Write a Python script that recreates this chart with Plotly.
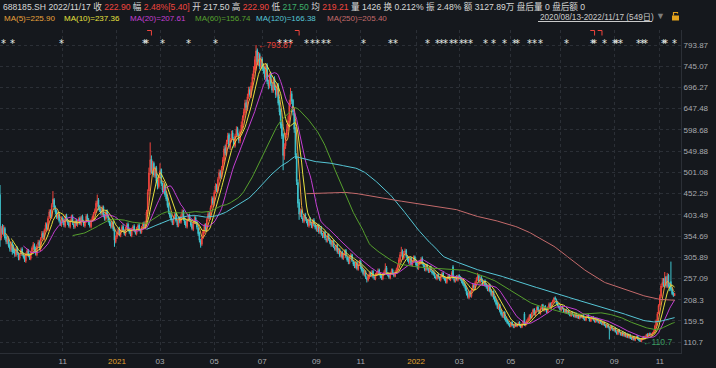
import plotly.graph_objects as go
import pandas as pd

# ---------------- data (daily OHLC, 2020/08/13 - 2022/11/17, 549 trading days) ----------------
close = [
    345,
    372, 362, 375, 350, 342, 348, 332, 325, 336, 318,
    320, 313, 325, 315, 305, 311, 323, 313, 307, 300, 313, 321, 310, 305, 317, 327, 335,
    322, 315, 332, 340, 328, 348, 360, 352, 368, 380, 372, 395, 410, 400, 425, 440,
    420, 410, 398, 405, 390, 382, 395, 388, 380, 400, 392, 385, 378, 390, 398, 384, 376, 388, 382,
    388, 394, 383, 398, 390, 380, 386, 400, 393, 384, 378, 390, 398, 406, 413,
    430, 435, 418,
    415, 407, 420, 403, 395, 410, 400, 390, 383, 377, 385, 370,
    345,
    350, 362, 370, 358, 366, 375, 368, 360, 372, 380, 370, 364, 358, 370, 376, 368, 362, 372, 378, 370, 365, 375, 382, 376, 385,
    410, 455, 500, 530, 505,
    520, 495, 510, 480, 470, 490, 505, 475, 460, 470, 450,
    440, 425, 410, 400, 392, 385, 398, 405, 390, 380, 395, 388, 400, 410, 395, 385, 378, 390, 400, 392, 380, 372, 385, 395, 388, 375,
    360, 345, 335, 350,
    365, 378, 370, 392, 405, 398, 420, 440, 430, 455, 470, 460, 485, 500, 492, 510,
    530, 555, 545, 570, 585, 560, 575, 590, 580, 565, 585, 600, 590, 575, 595, 610,
    625, 640, 660, 650, 675, 690, 680, 700, 720, 735,
    760, 780, 755, 770, 745, 760, 740,
    735, 720, 745, 710, 700, 725, 705, 690, 715, 695, 680, 700,
    660, 640, 610, 585, 540,
    560, 585, 600,
    620, 660, 680, 665, 640,
    600, 540, 480, 430, 405,
    410, 398, 390, 402, 395, 388, 380, 392, 385, 378, 390, 382, 375, 370, 378,
    365, 372, 360, 355, 362, 350, 345, 356, 348, 340,
    335, 342, 330, 325, 332, 318, 322, 310, 316, 305, 312, 320, 308, 300,
    295, 305, 310, 298, 290, 285, 292, 280, 288, 295, 282,
    275, 268, 272, 260, 255, 262,
    268, 265, 272, 262, 258, 266, 270, 275, 268, 262, 258, 266, 272, 280, 270, 265, 260, 268, 275, 270, 264, 272, 278, 285,
    300, 312, 318, 305, 315, 320, 308, 300,
    295, 302, 290, 296, 305, 298, 288, 282, 290, 296, 302, 292, 285, 278, 286, 280, 274, 282, 276, 270,
    268, 262, 258, 265, 260, 255, 262, 268, 260, 255, 250, 258, 262, 256, 262, 270, 258, 252, 260, 255, 262, 258,
    255, 250, 245, 240, 232, 222, 215, 225,
    218, 230, 240, 236, 248,
    255, 262, 250, 258, 252, 245, 250, 242,
    238, 232, 240, 228, 220, 225, 212, 205, 198, 190, 195, 182, 175, 170, 178, 165, 160, 155,
    152, 148, 155, 150, 146, 152, 148, 150, 155, 149, 146, 152, 158, 150, 155, 160,
    165, 172, 168, 178, 185, 175, 182, 190, 185, 178, 188, 195, 185, 192, 186, 180, 190, 198, 192, 200, 205, 212,
    210, 200, 195, 190, 185, 192, 188, 180, 185, 178, 182, 176, 172, 178, 174, 170, 176, 168, 172, 166, 170,
    168, 172, 165, 162, 168, 172, 166, 160, 164, 168, 162, 158, 164, 160, 156, 160, 155,
    152, 155, 150, 146, 150, 145, 140, 146, 142, 138, 142, 135, 130, 138, 134, 128, 132, 126, 130, 124, 128, 122, 126,
    120, 118, 122, 116, 120, 124, 118, 115, 112, 118, 122, 120, 124, 128, 125, 130, 128,
    128, 132, 136, 148, 160, 176, 195, 215, 240, 248,
    245, 258, 240, 262, 239, 235, 232, 222.1, 217.5, 222.9,
]

open_ = [
    450,
    350, 375, 358, 372, 353, 340, 350, 335, 322, 338,
    331, 322, 310, 327, 313, 303, 313, 325, 311, 309, 297, 315, 323, 311, 303, 319, 325,
    333, 325, 312, 335, 342, 325, 350, 362, 348, 370, 382, 370, 398, 412, 398, 428,
    438, 418, 412, 396, 404, 388, 380, 396, 390, 378, 402, 390, 386, 376, 392, 400, 382, 375, 390,
    380, 390, 396, 381, 400, 388, 378, 388, 402, 392, 386, 376, 392, 396, 408,
    412, 428, 438,
    420, 416, 405, 422, 402, 394, 412, 402, 392, 384, 375, 386,
    368,
    342, 352, 360, 372, 356, 368, 377, 366, 358, 374, 382, 368, 366, 356, 372, 378, 366, 360, 374, 380, 368, 363, 377, 384, 374,
    386, 412, 458, 502, 532,
    502, 522, 492, 512, 478, 468, 492, 508, 472, 458, 472,
    452, 442, 428, 408, 402, 390, 383, 400, 407, 388, 378, 397, 386, 402, 412, 393, 388, 376, 392, 402, 390, 382, 370, 387, 397, 386,
    373, 362, 344, 336,
    352, 363, 380, 368, 394, 407, 396, 422, 442, 428, 457, 472, 458, 487, 502, 490,
    512, 528, 558, 542, 572, 588, 558, 577, 592, 578, 562, 587, 602, 588, 573, 597,
    608, 627, 638, 662, 648, 677, 692, 678, 702, 722,
    737, 740, 782, 752, 772, 743, 762,
    742, 737, 718, 748, 708, 698, 727, 703, 688, 717, 693, 678,
    702, 662, 642, 612, 588,
    538, 562, 587,
    602, 622, 662, 682, 667,
    638, 598, 538, 478, 432,
    403, 412, 396, 388, 404, 393, 390, 378, 394, 383, 376, 392, 380, 377, 368,
    380, 363, 374, 358, 353, 364, 348, 343, 358, 346,
    342, 333, 344, 328, 323, 334, 316, 324, 308, 318, 303, 314, 322, 306,
    302, 293, 307, 312, 296, 292, 283, 294, 278, 290, 297,
    284, 277, 266, 274, 258, 253,
    260, 270, 263, 274, 260, 256, 268, 268, 277, 266, 264, 256, 268, 270, 282, 268, 267, 258, 270, 277, 268, 262, 274, 276,
    287, 298, 314, 320, 303, 317, 322, 306,
    302, 293, 304, 288, 298, 307, 296, 290, 280, 292, 294, 304, 290, 287, 276, 288, 278, 272, 284, 274,
    272, 270, 260, 256, 267, 258, 253, 264, 270, 258, 257, 248, 260, 264, 254, 264, 284, 256, 250, 262, 253, 264,
    260, 257, 252, 247, 242, 234, 224, 213,
    227, 216, 232, 242, 234,
    250, 257, 264, 248, 260, 254, 243, 252,
    244, 240, 230, 242, 230, 218, 227, 214, 207, 200, 188, 197, 184, 177, 168, 180, 167, 162,
    157, 153, 147, 157, 151, 145, 154, 147, 151, 157, 150, 145, 153, 176, 149, 156,
    161, 164, 174, 167, 179, 187, 174, 184, 192, 184, 176, 190, 197, 184, 194, 185, 179, 191, 200, 190, 202, 204,
    213, 209, 202, 194, 191, 184, 193, 187, 179, 186, 177, 183, 175, 171, 179, 173, 169, 177, 167, 173, 165,
    171, 167, 173, 164, 161, 169, 173, 165, 159, 165, 169, 161, 157, 165, 159, 155, 161,
    154, 151, 156, 149, 145, 151, 144, 139, 147, 141, 137, 143, 134, 129, 139, 133, 127, 133, 125, 131, 123, 129, 121,
    127, 121, 117, 123, 115, 121, 125, 119, 116, 112, 117, 123, 119, 125, 129, 124, 131,
    127, 129, 131, 137, 149, 161, 177, 196, 216, 242,
    250, 243, 260, 238, 265, 240, 250, 233, 224, 217.5,
]

high = [
    472,
    378, 382, 380, 376, 358, 355, 354, 340, 342, 342,
    335, 326, 330, 331, 317, 315, 328, 329, 317, 312, 317, 326, 325, 315, 321, 331, 341,
    338, 330, 336, 346, 345, 352, 366, 366, 372, 386, 386, 400, 416, 416, 430, 458,
    442, 425, 416, 410, 408, 393, 400, 400, 393, 405, 406, 395, 390, 394, 404, 404, 386, 393, 394,
    392, 398, 400, 402, 404, 392, 390, 405, 406, 396, 390, 394, 402, 410, 418,
    436, 450, 442,
    426, 420, 425, 425, 406, 414, 416, 404, 395, 388, 390, 390,
    372,
    356, 366, 374, 376, 370, 380, 382, 370, 376, 385, 386, 372, 370, 374, 380, 382, 370, 376, 382, 384, 372, 378, 386, 388, 390,
    415, 462, 512, 570, 540,
    528, 526, 515, 516, 484, 495, 522, 510, 478, 476, 476,
    456, 446, 432, 413, 406, 394, 402, 410, 410, 392, 398, 400, 404, 416, 415, 398, 390, 394, 405, 406, 394, 385, 390, 400, 400, 390,
    376, 365, 348, 354,
    370, 383, 384, 396, 410, 410, 425, 446, 446, 460, 476, 475, 490, 508, 506, 516,
    536, 562, 565, 576, 592, 592, 580, 597, 598, 582, 590, 607, 606, 592, 600, 618,
    632, 648, 668, 668, 682, 698, 698, 708, 728, 745,
    768, 793.87, 786, 778, 776, 768, 766,
    750, 742, 752, 752, 714, 730, 732, 708, 720, 722, 698, 706,
    706, 668, 648, 618, 592,
    568, 592, 612,
    632, 668, 695, 688, 670,
    645, 605, 545, 485, 440,
    418, 416, 400, 406, 408, 398, 394, 396, 398, 388, 394, 396, 384, 380, 382,
    383, 376, 378, 362, 366, 367, 352, 360, 361, 350,
    345, 346, 347, 332, 336, 336, 326, 327, 320, 321, 316, 324, 325, 310,
    306, 310, 316, 314, 300, 295, 296, 297, 292, 300, 299,
    288, 280, 276, 276, 262, 266,
    272, 273, 276, 277, 263, 270, 274, 280, 280, 270, 267, 270, 276, 292, 286, 272, 270, 272, 280, 280, 272, 276, 282, 290,
    305, 318, 330, 324, 320, 326, 325, 310,
    305, 306, 307, 300, 310, 310, 300, 293, 294, 300, 306, 308, 294, 290, 290, 291, 282, 286, 287, 278,
    276, 273, 264, 268, 270, 262, 265, 272, 272, 262, 260, 261, 266, 267, 265, 274, 288, 260, 263, 265, 266, 267,
    263, 260, 255, 250, 245, 237, 228, 228,
    230, 234, 245, 246, 252,
    260, 270, 266, 262, 263, 257, 253, 255,
    247, 243, 244, 245, 233, 228, 230, 217, 210, 203, 198, 199, 187, 180, 181, 182, 170, 164,
    159, 155, 158, 159, 153, 154, 156, 153, 158, 159, 152, 155, 161, 180, 158, 163,
    168, 175, 176, 180, 188, 189, 184, 193, 194, 186, 191, 198, 199, 194, 196, 188, 193, 202, 202, 203, 208, 214,
    216, 211, 204, 197, 193, 194, 195, 189, 187, 188, 184, 185, 177, 180, 181, 175, 178, 179, 174, 175, 172,
    173, 174, 175, 166, 170, 174, 175, 167, 166, 170, 171, 163, 166, 167, 161, 162, 163,
    156, 157, 158, 151, 152, 152, 146, 148, 149, 143, 144, 145, 136, 140, 141, 135, 134, 135, 132, 133, 130, 131, 128,
    129, 123, 124, 125, 122, 126, 126, 121, 118, 119, 124, 125, 126, 130, 131, 132, 133,
    131, 134, 138, 151, 163, 180, 198, 220, 245, 258,
    258, 272, 263, 270, 268, 246, 296, 236, 226, 222.9,
]

low = [
    330,
    345, 358, 354, 346, 336, 336, 328, 319, 318, 312,
    315, 307, 307, 311, 299, 299, 309, 309, 303, 295, 293, 310, 306, 300, 299, 314, 321,
    318, 310, 308, 330, 322, 320, 345, 348, 344, 365, 368, 366, 394, 396, 394, 422,
    415, 405, 394, 392, 386, 378, 376, 384, 375, 374, 388, 380, 374, 372, 388, 380, 371, 372, 378,
    376, 386, 380, 378, 386, 376, 374, 385, 390, 380, 374, 372, 388, 392, 404,
    408, 422, 414,
    410, 402, 400, 398, 390, 390, 396, 386, 378, 372, 372, 366,
    330,
    338, 348, 356, 354, 352, 364, 364, 356, 354, 370, 366, 360, 354, 352, 368, 364, 358, 356, 370, 366, 360, 360, 372, 372, 370,
    382, 405, 450, 495, 498,
    498, 490, 488, 476, 462, 464, 488, 470, 455, 452, 445,
    435, 420, 405, 396, 388, 380, 380, 396, 386, 375, 375, 384, 383, 398, 390, 380, 373, 372, 388, 388, 376, 368, 366, 383, 384, 370,
    355, 340, 328, 332,
    348, 360, 366, 364, 390, 394, 392, 418, 426, 424, 452, 456, 454, 482, 487, 486,
    506, 522, 540, 538, 566, 555, 552, 570, 575, 558, 558, 582, 585, 568, 568, 590,
    602, 620, 632, 644, 642, 670, 674, 672, 695, 715,
    730, 735, 748, 746, 738, 738, 734,
    728, 714, 712, 704, 692, 694, 700, 684, 684, 690, 672, 674,
    655, 632, 602, 578, 506,
    530, 555, 580,
    596, 615, 655, 658, 632,
    592, 532, 472, 420, 392,
    398, 394, 385, 384, 390, 384, 376, 374, 380, 373, 372, 378, 370, 365, 364,
    360, 359, 356, 350, 350, 346, 340, 340, 344, 336,
    330, 330, 327, 321, 320, 314, 313, 306, 305, 301, 300, 310, 304, 296,
    290, 290, 304, 295, 286, 281, 280, 276, 275, 286, 278,
    271, 264, 262, 256, 248, 250,
    256, 262, 260, 258, 254, 253, 264, 265, 264, 258, 254, 253, 265, 268, 266, 262, 256, 255, 267, 266, 260, 260, 270, 273,
    284, 295, 308, 300, 300, 312, 304, 296,
    291, 290, 286, 285, 294, 294, 285, 278, 277, 288, 290, 288, 281, 274, 273, 276, 270, 270, 272, 266,
    264, 258, 255, 253, 257, 252, 250, 261, 256, 252, 246, 245, 256, 253, 251, 260, 255, 248, 248, 252, 250, 255,
    252, 246, 241, 236, 228, 218, 211, 210,
    214, 213, 228, 232, 231,
    246, 252, 246, 245, 249, 241, 240, 238,
    234, 228, 227, 225, 216, 215, 209, 202, 195, 187, 185, 179, 172, 167, 166, 162, 157, 152,
    149, 145, 145, 148, 143, 143, 146, 145, 149, 147, 143, 143, 151, 148, 147, 154,
    158, 161, 165, 165, 176, 172, 171, 181, 183, 176, 174, 187, 183, 181, 184, 177, 177, 188, 189, 187, 199, 201,
    207, 198, 193, 188, 183, 182, 186, 178, 177, 176, 175, 174, 170, 169, 172, 168, 167, 166, 165, 164, 163,
    166, 165, 163, 160, 159, 167, 164, 158, 157, 163, 160, 156, 155, 158, 154, 153, 153,
    150, 149, 148, 144, 143, 143, 117, 137, 140, 136, 135, 133, 128, 127, 132, 126, 125, 124, 123, 122, 121, 120, 119,
    118, 116, 115, 114, 113, 119, 116, 113, 111.5, 110.7, 115, 118, 117, 122, 123, 122, 126,
    125, 127, 129, 135, 147, 159, 175, 193, 212, 236,
    238, 240, 236, 235, 236, 228, 228, 219, 215, 217.5,
]

# x-axis month labels (trading-day index of the first session of the month)
tick_idx = [51, 95, 130, 174, 213, 257, 293, 338, 373, 415, 455, 499, 536]
tick_text = ["11", "2021", "03", "05", "07", "09", "11", "2022", "03", "05", "07", "09", "11"]
year_labels = ["2021", "2022"]

# right price axis labels
y_ticks = [110.7, 159.5, 208.3, 257.09, 305.89, 354.69, 403.49, 452.29,
           501.08, 549.88, 598.68, 647.48, 696.27, 745.07, 793.87]
y_tick_text = ["110.7", "159.5", "208.3", "257.09", "305.89", "354.69", "403.49", "452.29",
               "501.08", "549.88", "598.68", "647.48", "696.27", "745.07", "793.87"]

# event markers (*) and red corner markers along the top
event_idx = [3, 10, 50, 117, 119, 132, 153, 175, 227, 232, 236, 249, 254, 258, 263, 267,
             295, 317, 321, 347, 355, 359, 362, 367, 370, 375, 378, 382, 394, 401, 410,
             418, 420, 430, 434, 439, 460, 481, 483, 491, 499, 501, 504, 519, 522, 524,
             539, 541, 548]
mark_idx = [123, 243, 483, 489]

ma_periods = [5, 10, 20, 60, 120, 250]
ma_names = ["MA(5)=225.90", "MA(10)=237.36", "MA(20)=207.61", "MA(60)=156.74",
            "MA(120)=166.38", "MA(250)=205.40"]
ma_colors = ["#e9a23b", "#e6e23e", "#c43fd3", "#56a02d", "#55c6d6", "#c46a6b"]

header_items = [
    ("688185.SH", "#d8d8d8"), ("2022/11/17", "#d8d8d8"),
    ("收", "#d8d8d8"), ("222.90", "#f0453d"),
    ("幅", "#d8d8d8"), ("2.48%[5.40]", "#f0453d"),
    ("开", "#d8d8d8"), ("217.50", "#d8d8d8"),
    ("高", "#d8d8d8"), ("222.90", "#f0453d"),
    ("低", "#d8d8d8"), ("217.50", "#3fae6a"),
    ("均", "#d8d8d8"), ("219.21", "#f0453d"),
    ("量", "#d8d8d8"), ("1426", "#d8d8d8"),
    ("换", "#d8d8d8"), ("0.212%", "#d8d8d8"),
    ("振", "#d8d8d8"), ("2.48%", "#d8d8d8"),
    ("额", "#d8d8d8"), ("3127.89万", "#d8d8d8"),
    ("盘后量", "#d8d8d8"), ("0", "#d8d8d8"),
    ("盘后额", "#d8d8d8"), ("0", "#d8d8d8"),
]
range_text = "2020/08/13-2022/11/17 (549日)"
max_label = "←793.87"
min_label = "←110.7"

# ---------------- styling ----------------
BG = "#15181d"
GRID = "#2b2f36"
UP = "#f0453d"
DOWN = "#3fc5cf"
TXT = "#a9abaf"
FONT = "Liberation Sans, Noto Sans CJK SC, sans-serif"

# plot area in pixels: x 0..681, y 30..353 (716x368 page)
PL, PR, PT, PB = 0, 681, 30, 353


def px(x):
    return (x - PL) / (PR - PL)


def py(y):
    return (PB - y) / (PB - PT)


x = list(range(len(close)))
s = pd.Series(close, dtype=float)

fig = go.Figure()
fig.add_trace(go.Candlestick(
    x=x, open=open_, high=high, low=low, close=close,
    increasing=dict(line=dict(color=UP, width=1), fillcolor=UP),
    decreasing=dict(line=dict(color=DOWN, width=1), fillcolor=DOWN),
    whiskerwidth=0, hoverinfo="skip", showlegend=False,
))
for n, col in zip(ma_periods, ma_colors):
    ma = s.rolling(n).mean()
    fig.add_trace(go.Scatter(x=x, y=ma, mode="lines", line=dict(color=col, width=1),
                             hoverinfo="skip", showlegend=False))

ann = []
# header line 1
hdr = " ".join(f"<span style='color:{c}'>{t}</span>" for t, c in header_items)
ann.append(dict(x=px(1), y=py(6), xref="paper", yref="paper", xanchor="left", yanchor="middle",
                text=hdr, showarrow=False, font=dict(size=8.6, color="#d8d8d8", family=FONT)))
# MA legend line 2
ma_x = [2, 62, 128, 193, 254, 325]
for name, col, xx in zip(ma_names, ma_colors, ma_x):
    ann.append(dict(x=px(xx), y=py(18), xref="paper", yref="paper", xanchor="left", yanchor="middle",
                    text=name, showarrow=False, font=dict(size=8, color=col, family=FONT)))
ann.append(dict(x=px(538), y=py(17.5), xref="paper", yref="paper", xanchor="left", yanchor="middle",
                text=range_text, showarrow=False, font=dict(size=8.2, color="#c9c9c9", family=FONT)))
ann.append(dict(x=px(660), y=py(16), xref="paper", yref="paper", xanchor="center", yanchor="middle",
                text="▼", showarrow=False, font=dict(size=9, color="#7c7c7c", family=FONT)))
# event markers
for e in event_idx:
    ann.append(dict(x=e, y=py(44), xref="x", yref="paper", xanchor="center", yanchor="middle",
                    text="*", showarrow=False, font=dict(size=10, color="#e8e8e8", family="DejaVu Sans")))
# max / min labels
imax = high.index(max(high))
imin = low.index(min(low))
ann.append(dict(x=imax, y=max(high), xref="x", yref="y", xanchor="left", yanchor="middle",
                text=max_label, showarrow=False, font=dict(size=8.5, color="#e8433b", family=FONT)))
ann.append(dict(x=imin, y=min(low), xref="x", yref="y", xanchor="left", yanchor="middle",
                text=min_label, showarrow=False, font=dict(size=8.5, color="#3c9f63", family=FONT)))

shapes = []
for m in mark_idx:
    shapes.append(dict(type="line", xref="x", yref="paper", x0=m - 3.5, x1=m, y0=py(30.5), y1=py(30.5),
                       line=dict(color=UP, width=1)))
    shapes.append(dict(type="line", xref="x", yref="paper", x0=m, x1=m, y0=py(30.5), y1=py(35.5),
                       line=dict(color=UP, width=1)))
# underline of the range text
shapes.append(dict(type="line", xref="paper", yref="paper", x0=px(538), x1=px(652), y0=py(21.5), y1=py(21.5),
                   line=dict(color="#c9c9c9", width=1)))
# lock icon
shapes.append(dict(type="rect", xref="paper", yref="paper", x0=px(672), x1=px(679), y0=py(20.5), y1=py(15.5),
                   line=dict(width=0), fillcolor="#e3a21c"))
shapes.append(dict(type="path", xref="paper", yref="paper",
                   path=f"M {px(673.5)},{py(15.5)} L {px(673.5)},{py(12.5)} L {px(677.5)},{py(12.5)} L {px(677.5)},{py(13.5)}",
                   line=dict(color="#e3a21c", width=1.2)))

ticktext = [f"<span style='color:#e0a030'>{t}</span>" if t in year_labels else t for t in tick_text]

fig.update_layout(
    width=716, height=368,
    margin=dict(l=PL, r=716 - PR, t=PT, b=368 - PB, pad=0),
    paper_bgcolor=BG, plot_bgcolor=BG,
    showlegend=False,
    annotations=ann, shapes=shapes,
    xaxis=dict(range=[0.0, 553.2], rangeslider=dict(visible=False), tickmode="array",
               tickvals=tick_idx, ticktext=ticktext, showgrid=True, gridcolor=GRID, griddash="dot",
               gridwidth=1, zeroline=False, showline=True, linecolor=GRID, linewidth=1, ticks="",
               tickfont=dict(size=8, color=TXT, family=FONT), automargin=False, fixedrange=True),
    yaxis=dict(range=[85.87, 828.35], side="right", tickmode="array", tickvals=y_ticks,
               ticktext=y_tick_text, showgrid=True, gridcolor=GRID, griddash="dot", gridwidth=1,
               zeroline=False, showline=True, linecolor=GRID, linewidth=1, ticks="",
               tickfont=dict(size=8, color=TXT, family=FONT), automargin=False, fixedrange=True),
)

fig.write_html("out.html", config={"displayModeBar": False},
               post_script="document.body.style.margin='0';document.body.style.overflow='hidden';")
